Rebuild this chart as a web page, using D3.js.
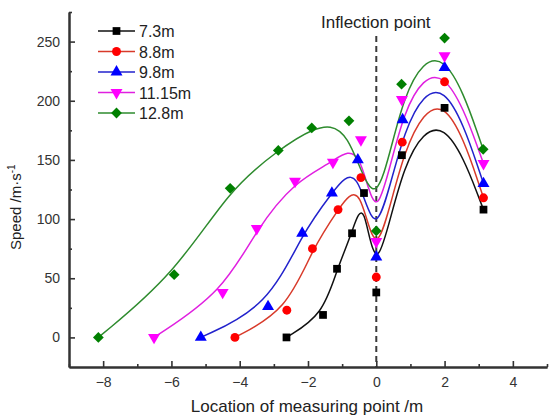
<!DOCTYPE html>
<html>
<head>
<meta charset="utf-8">
<script src="https://cdn.jsdelivr.net/npm/d3@7"></script>
<style>
body { margin: 0; background: #fff; }
text { font-family: Arial, "Liberation Sans", sans-serif; }
</style>
</head>
<body>
<div id="chart"></div>
<script>
// Data (location /m, speed /m·s-1)
var seriesNames = ["7.3m", "8.8m", "9.8m", "11.15m", "12.8m"];
var seriesColors = ["#000000", "#ff0000", "#0000ff", "#ff00ff", "#008000"];
var lineColors = ["#111111", "#d83a2a", "#2222cc", "#e020e0", "#2e8b2e"];

var x73 = [-2.63, -1.56, -1.15, -0.71, -0.36, 0, 0.75, 2, 3.14];
var y73 = [0, 19, 58, 88, 122, 38, 154, 194, 108];

var x88 = [-4.14, -2.62, -1.87, -1.12, -0.45, 0, 0.76, 2, 3.14];
var y88 = [0, 23, 75, 108, 135, 51, 165, 216, 118];

var x98 = [-5.14, -3.17, -2.17, -1.3, -0.54, 0, 0.77, 2, 3.14];
var y98 = [0, 26, 88, 122, 150, 68, 184, 228, 130];

var x1115 = [-6.51, -4.5, -3.5, -2.38, -1.27, -0.45, 0, 0.75, 2, 3.14];
var y1115 = [0, 38, 92, 132, 148, 167, 81, 201, 238, 147];

var x128 = [-8.14, -5.92, -4.28, -2.87, -1.89, -0.8, 0, 0.74, 2, 3.13];
var y128 = [0, 53, 126, 158, 177, 183, 90, 214, 253, 159];

var xTicks = [-8, -6, -4, -2, 0, 2, 4];
var xMinor = [-9, -7, -5, -3, -1, 1, 3, 5];
var yTicks = [0, 50, 100, 150, 200, 250];
var yMinor = [25, 75, 125, 175, 225, 275];

var seriesX = [x73, x88, x98, x1115, x128];
var seriesY = [y73, y88, y98, y1115, y128];

// Set the dimensions and margins of the graph
var margin = {top: 12, right: 2, bottom: 49, left: 69},
    width = 549 - margin.left - margin.right,
    height = 416 - margin.top - margin.bottom;

var svg = d3.select("#chart")
  .append("svg")
    .attr("width", 549)
    .attr("height", 416)
  .append("g")
    .attr("transform", "translate(" + margin.left + "," + margin.top + ")");

var x = d3.scaleLinear().domain([-9, 5]).range([0, width]);
var y = d3.scaleLinear().domain([-25, 275]).range([height, 0]);

// marker shapes
var shapes = [
  {type: d3.symbolSquare, size: 60, rot: 0},
  {type: d3.symbolCircle, size: 62, rot: 0},
  {type: d3.symbolTriangle, size: 62, rot: 0},
  {type: d3.symbolTriangle, size: 62, rot: 180},
  {type: d3.symbolSquare, size: 58, rot: 45}
];

// Inflection line
svg.append("line")
  .attr("x1", x(0)).attr("x2", x(0))
  .attr("y1", 24).attr("y2", height)
  .attr("stroke", "#3a3a3a")
  .attr("stroke-width", 2)
  .attr("stroke-dasharray", "6,4");

svg.append("text")
  .attr("x", x(0) - 0.5)
  .attr("y", 16)
  .attr("text-anchor", "middle")
  .style("font-size", "17px")
  .attr("fill", "#222")
  .text("Inflection point");

// Fitted curves (B-spline through the points)
var line = d3.line()
  .x(function(d) { return x(d[0]); })
  .y(function(d) { return y(d[1]); })
  .curve(d3.curveBasis);

for (var i = 0; i < seriesNames.length; i++) {
  var pts = seriesX[i].map(function(v, j) { return [v, seriesY[i][j]]; });
  svg.append("path")
    .datum(pts)
    .attr("d", line)
    .attr("fill", "none")
    .attr("stroke", lineColors[i])
    .attr("stroke-width", 1.5);
}

// Markers
for (var i = 0; i < seriesNames.length; i++) {
  var pts = seriesX[i].map(function(v, j) { return [v, seriesY[i][j]]; });
  var sh = shapes[i];
  svg.append("g")
    .selectAll("path")
    .data(pts)
    .enter()
    .append("path")
      .attr("d", d3.symbol().type(sh.type).size(sh.size))
      .attr("transform", function(d) {
        return "translate(" + x(d[0]) + "," + y(d[1]) + ") rotate(" + sh.rot + ")";
      })
      .attr("fill", seriesColors[i]);
}

// Axes
svg.append("g")
  .attr("transform", "translate(0," + height + ")")
  .call(d3.axisBottom(x).tickValues(xTicks).tickSize(-6).tickSizeOuter(0).tickPadding(10));
svg.append("g")
  .attr("transform", "translate(0," + height + ")")
  .call(d3.axisBottom(x).tickValues(xMinor).tickSize(-3).tickSizeOuter(0).tickFormat(""));

svg.append("g")
  .call(d3.axisLeft(y).tickValues(yTicks).tickSize(-6).tickSizeOuter(0).tickPadding(9));
svg.append("g")
  .call(d3.axisLeft(y).tickValues(yMinor).tickSize(-3).tickSizeOuter(0).tickFormat(""));

svg.selectAll(".domain").attr("stroke", "#333").attr("stroke-width", 2);
svg.selectAll(".tick line").attr("stroke", "#333").attr("stroke-width", 1.6);
svg.selectAll(".tick text")
  .style("font-size", "14px")
  .style("font-family", "Arial, 'Liberation Sans', sans-serif")
  .attr("fill", "#333");

// Axis labels
svg.append("text")
  .attr("text-anchor", "middle")
  .attr("x", (x(-9) + x(5)) / 2 - 1)
  .attr("y", 400)
  .style("font-size", "17px")
  .attr("fill", "#222")
  .text("Location of measuring point /m");

var yl = svg.append("text")
  .attr("text-anchor", "middle")
  .attr("transform", "translate(" + (-48) + "," + (y(110)) + ") rotate(-90)")
  .style("font-size", "15px")
  .attr("fill", "#222");
yl.append("tspan").text("Speed /m·s");
yl.append("tspan").attr("dy", -6).style("font-size", "10px").text("-1");

// Legend
var legend = svg.append("g").attr("transform", "translate(" + (98 - margin.left) + "," + (31 - margin.top) + ")");
for (var i = 0; i < seriesNames.length; i++) {
  var row = legend.append("g").attr("transform", "translate(0," + (i * 20.5) + ")");
  row.append("line")
    .attr("x1", 0).attr("x2", 37)
    .attr("y1", 0).attr("y2", 0)
    .attr("stroke", lineColors[i])
    .attr("stroke-width", 1.5);
  row.append("path")
    .attr("d", d3.symbol().type(shapes[i].type).size(shapes[i].size))
    .attr("transform", "translate(18.5,0) rotate(" + shapes[i].rot + ")")
    .attr("fill", seriesColors[i]);
  row.append("text")
    .attr("x", 41)
    .attr("y", 6)
    .style("font-size", "16px")
    .attr("fill", "#222")
    .text(seriesNames[i]);
}
</script>
</body>
</html>
